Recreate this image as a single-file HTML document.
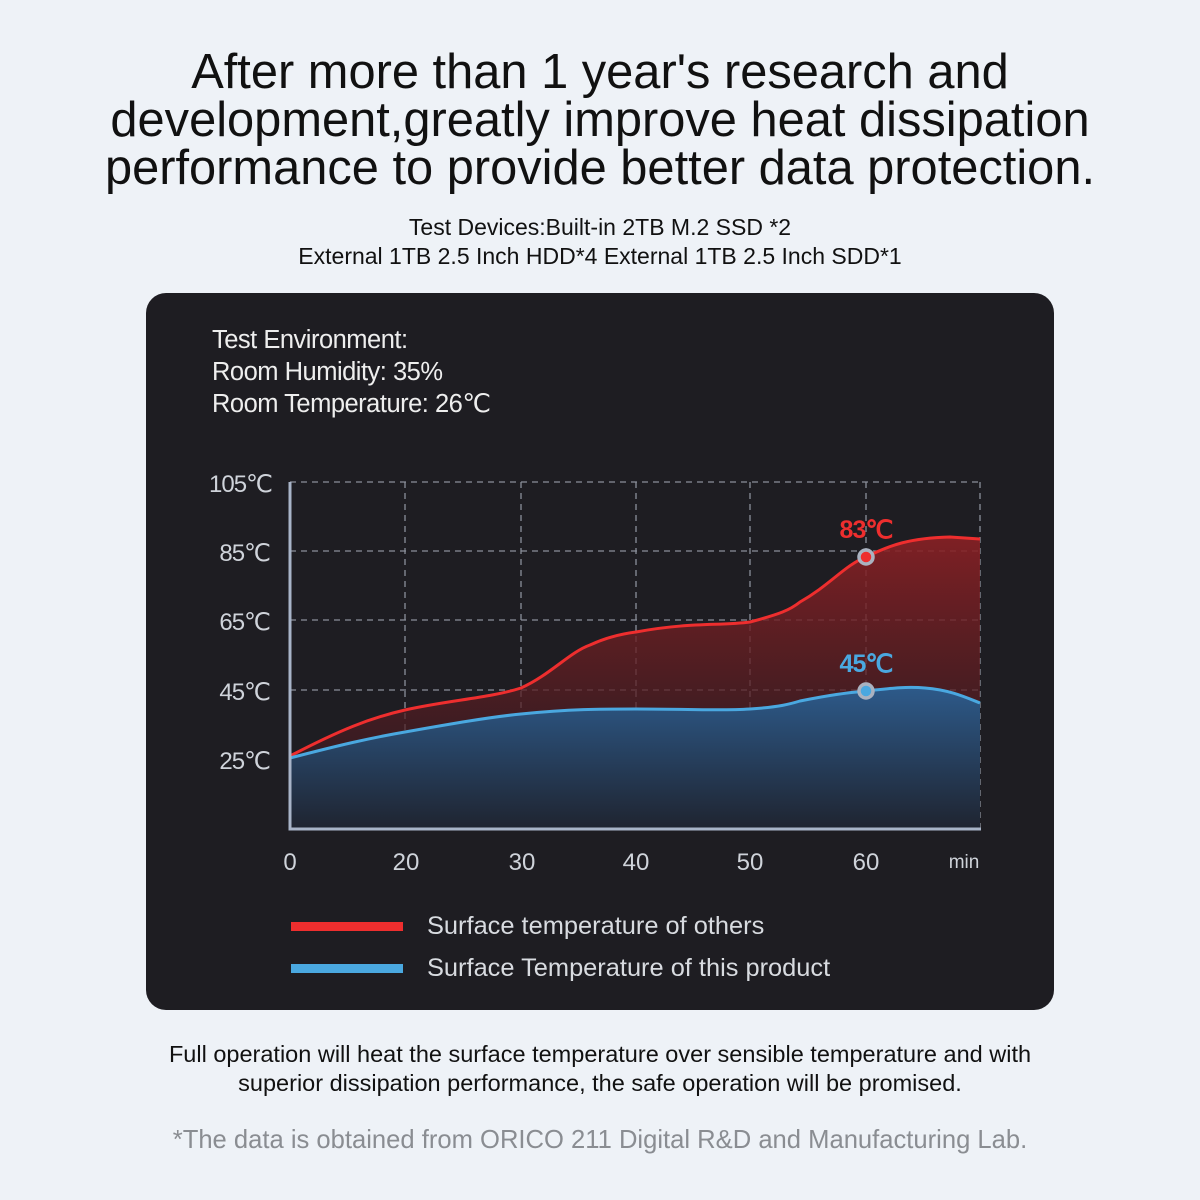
<!DOCTYPE html>
<html><head><meta charset="utf-8"><style>
body{margin:0;width:1200px;height:1200px;background:#eef2f7;font-family:"Liberation Sans",sans-serif;position:relative;overflow:hidden}
.t{position:absolute;left:0;width:1200px;text-align:center;color:#111}
h1{position:absolute;left:0;top:48px;width:1200px;margin:0;text-align:center;font-weight:normal;font-size:48.8px;line-height:48px;color:#111}
.card{position:absolute;left:146px;top:293px;width:908px;height:717px;background:#1e1d22;border-radius:20px}
.env{position:absolute;left:212px;top:324px;color:#eee;font-size:25.5px;line-height:32px;letter-spacing:-0.5px}
</style></head><body>
<h1>After more than 1 year's research and<br>development,greatly improve heat dissipation<br>performance to provide better data protection.</h1>
<div class="t" style="top:213px;font-size:23px;line-height:29px">Test Devices:Built-in 2TB M.2 SSD *2<br>External 1TB 2.5 Inch HDD*4 External 1TB 2.5 Inch SDD*1</div>
<div class="card"></div>
<div class="env">Test Environment:<br>Room Humidity: 35%<br>Room Temperature: 26℃</div>
<svg width="1200" height="1200" style="position:absolute;left:0;top:0">
<defs>
<linearGradient id="rg" x1="0" y1="0" x2="0" y2="1"><stop offset="0" stop-color="#8a2024" stop-opacity=".9"/><stop offset="1" stop-color="#2a1a20" stop-opacity=".6"/></linearGradient>
<linearGradient id="bg" x1="0" y1="0" x2="0" y2="1"><stop offset="0" stop-color="#2d5a8a"/><stop offset="1" stop-color="#1f2430"/></linearGradient>
</defs>
<g stroke="#8a8f9a" stroke-dasharray="6,5" stroke-width="1.3" fill="none">
<line x1="290" y1="482" x2="980" y2="482"/><line x1="290" y1="551" x2="980" y2="551"/><line x1="290" y1="620" x2="980" y2="620"/><line x1="290" y1="690" x2="980" y2="690"/><line x1="290" y1="759" x2="980" y2="759"/>
<line x1="405" y1="482" x2="405" y2="829"/><line x1="521" y1="482" x2="521" y2="829"/><line x1="636" y1="482" x2="636" y2="829"/><line x1="750" y1="482" x2="750" y2="829"/><line x1="866" y1="482" x2="866" y2="829"/><line x1="980" y1="482" x2="980" y2="829"/>
</g>
<path d="M290,756 C340,730 370,718 405,710 C450,700 490,698 521,688 C550,675 570,652 590,645 C605,638 620,634 636,632 C690,622 720,626 750,622 C780,614 790,610 800,602 C830,585 845,565 866,557 C890,545 910,538 950,537 L980,539 L980,829 L290,829Z" fill="url(#rg)"/>
<path d="M290,758 C340,745 370,738 405,732 C450,724 490,717 521,714 C570,709 600,709 636,709 C690,709 720,711 750,709 C780,707 790,704 800,701 C830,695 845,693 866,691 C885,689 905,686 925,688 C950,690 965,697 980,703 L980,829 L290,829Z" fill="url(#bg)"/>
<path d="M290,756 C340,730 370,718 405,710 C450,700 490,698 521,688 C550,675 570,652 590,645 C605,638 620,634 636,632 C690,622 720,626 750,622 C780,614 790,610 800,602 C830,585 845,565 866,557 C890,545 910,538 950,537 L980,539" fill="none" stroke="#ee2e2e" stroke-width="3"/>
<path d="M290,758 C340,745 370,738 405,732 C450,724 490,717 521,714 C570,709 600,709 636,709 C690,709 720,711 750,709 C780,707 790,704 800,701 C830,695 845,693 866,691 C885,689 905,686 925,688 C950,690 965,697 980,703" fill="none" stroke="#4aa8e0" stroke-width="3"/>
<polyline points="290,482 290,829 981,829" fill="none" stroke="#a8b4c8" stroke-width="3"/>
<circle cx="866" cy="557" r="7" fill="#ee2e2e" stroke="#aab2c0" stroke-width="3.5"/>
<circle cx="866" cy="691" r="7" fill="#4aa8e0" stroke="#aab2c0" stroke-width="3.5"/>
<g font-family="Liberation Sans,sans-serif" font-size="24" fill="#cfd3da" text-anchor="end" letter-spacing="-1">
<text x="272" y="492">105℃</text><text x="270" y="561">85℃</text><text x="270" y="630">65℃</text><text x="270" y="700">45℃</text><text x="270" y="769">25℃</text>
</g>
<g font-family="Liberation Sans,sans-serif" font-size="24" fill="#cfd3da" text-anchor="middle">
<text x="290" y="870">0</text><text x="406" y="870">20</text><text x="522" y="870">30</text><text x="636" y="870">40</text><text x="750" y="870">50</text><text x="866" y="870">60</text><text x="964" y="868" font-size="19">min</text>
</g>
<text x="866" y="538" font-family="Liberation Sans,sans-serif" font-size="25" font-weight="bold" fill="#ee2e2e" text-anchor="middle" letter-spacing="-1">83℃</text>
<text x="866" y="672" font-family="Liberation Sans,sans-serif" font-size="25" font-weight="bold" fill="#4aa8e0" text-anchor="middle" letter-spacing="-1">45℃</text>
<rect x="291" y="922" width="112" height="9" fill="#ee2e2e"/>
<rect x="291" y="964" width="112" height="9" fill="#4aa8e0"/>
<g font-family="Liberation Sans,sans-serif" font-size="25.4" fill="#d8dbe0">
<text x="427" y="934">Surface temperature of others</text>
<text x="427" y="976">Surface Temperature of this product</text>
</g>
</svg>
<div class="t" style="top:1040px;font-size:23.5px;line-height:29px">Full operation will heat the surface temperature over sensible temperature and with<br>superior dissipation performance, the safe operation will be promised.</div>
<div class="t" style="top:1126px;font-size:25.6px;color:#8a8d92">*The data is obtained from ORICO 211 Digital R&amp;D and Manufacturing Lab.</div>
</body></html>
